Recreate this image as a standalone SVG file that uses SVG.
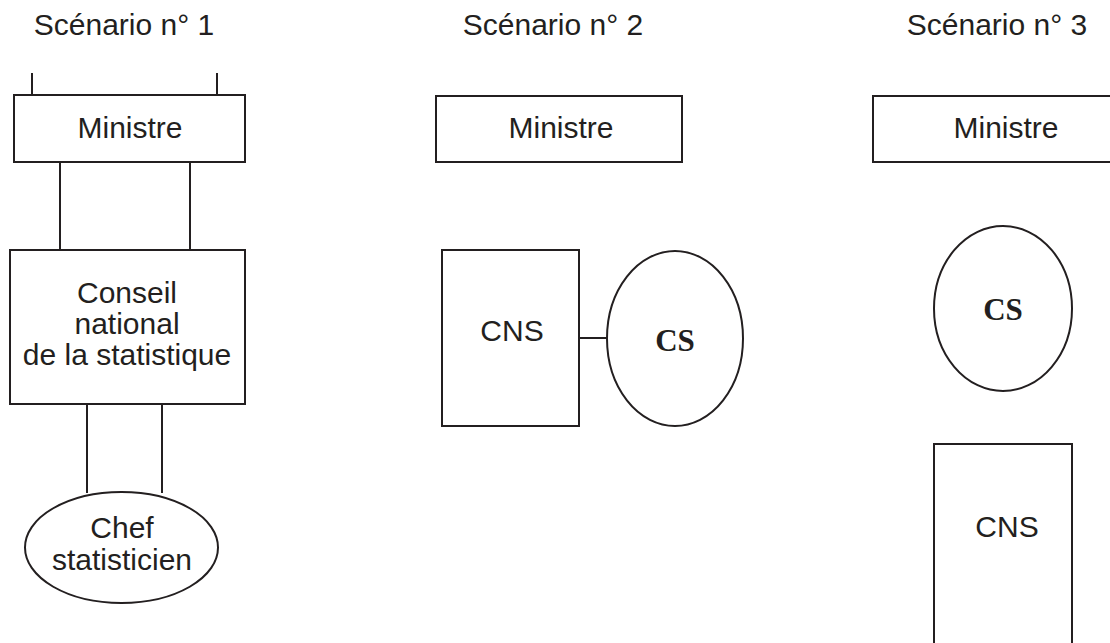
<svg xmlns="http://www.w3.org/2000/svg" width="1110" height="643" viewBox="0 0 1110 643">
<style>
.box{fill:#fff;stroke:#231f20;stroke-width:2}
.ln{stroke:#231f20;stroke-width:2;fill:none}
.t{font-family:"Liberation Sans",Arial,sans-serif;font-size:30px;fill:#231f20;text-anchor:middle}
.ti{font-family:"Liberation Sans",Arial,sans-serif;font-size:30px;fill:#231f20;text-anchor:middle}
.cs{font-family:"Liberation Serif","Times New Roman",serif;font-size:31px;font-weight:bold;fill:#231f20;text-anchor:middle}
</style>
<rect width="1110" height="643" fill="#fff"/>
<g id="titles">
<text class="ti" x="124" y="35">Scénario n° 1</text>
<text class="ti" x="553" y="35">Scénario n° 2</text>
<text class="ti" x="997" y="35">Scénario n° 3</text>
</g>
<g id="connectors">
<line class="ln" x1="32" y1="73" x2="32" y2="95"/>
<line class="ln" x1="217" y1="73" x2="217" y2="95"/>
<line class="ln" x1="60" y1="162" x2="60" y2="250"/>
<line class="ln" x1="190" y1="162" x2="190" y2="250"/>
<line class="ln" x1="87" y1="404" x2="87" y2="493"/>
<line class="ln" x1="162" y1="404" x2="162" y2="493"/>
<line class="ln" x1="579" y1="338" x2="607" y2="338"/>
</g>
<g id="s1-ministre">
<rect class="box" x="14" y="95" width="231" height="67"/>
<text class="t" x="130" y="138">Ministre</text>
</g>
<g id="s1-conseil">
<rect class="box" x="10" y="250" width="235" height="154"/>
<text class="t" x="127" y="303">Conseil</text>
<text class="t" x="127" y="334">national</text>
<text class="t" x="127" y="365">de la statistique</text>
</g>
<g id="s1-chef">
<ellipse class="box" cx="121.5" cy="547.5" rx="96.5" ry="55.5"/>
<text class="t" x="122" y="538">Chef</text>
<text class="t" x="122" y="570">statisticien</text>
</g>
<g id="s2-ministre">
<rect class="box" x="436" y="96" width="246" height="66"/>
<text class="t" x="561" y="138">Ministre</text>
</g>
<g id="s2-cns">
<rect class="box" x="442" y="250" width="137" height="176"/>
<text class="t" x="512" y="341">CNS</text>
</g>
<g id="s2-cs">
<ellipse class="box" cx="675" cy="338.5" rx="68" ry="87.5"/>
<text class="cs" x="675" y="351">CS</text>
</g>
<g id="s3-ministre">
<rect class="box" x="873" y="96" width="250" height="66"/>
<text class="t" x="1006" y="138">Ministre</text>
</g>
<g id="s3-cs">
<ellipse class="box" cx="1003" cy="308.5" rx="69" ry="82.5"/>
<text class="cs" x="1003" y="320">CS</text>
</g>
<g id="s3-cns">
<rect class="box" x="934" y="444" width="138" height="220"/>
<text class="t" x="1007" y="537">CNS</text>
</g>
</svg>
